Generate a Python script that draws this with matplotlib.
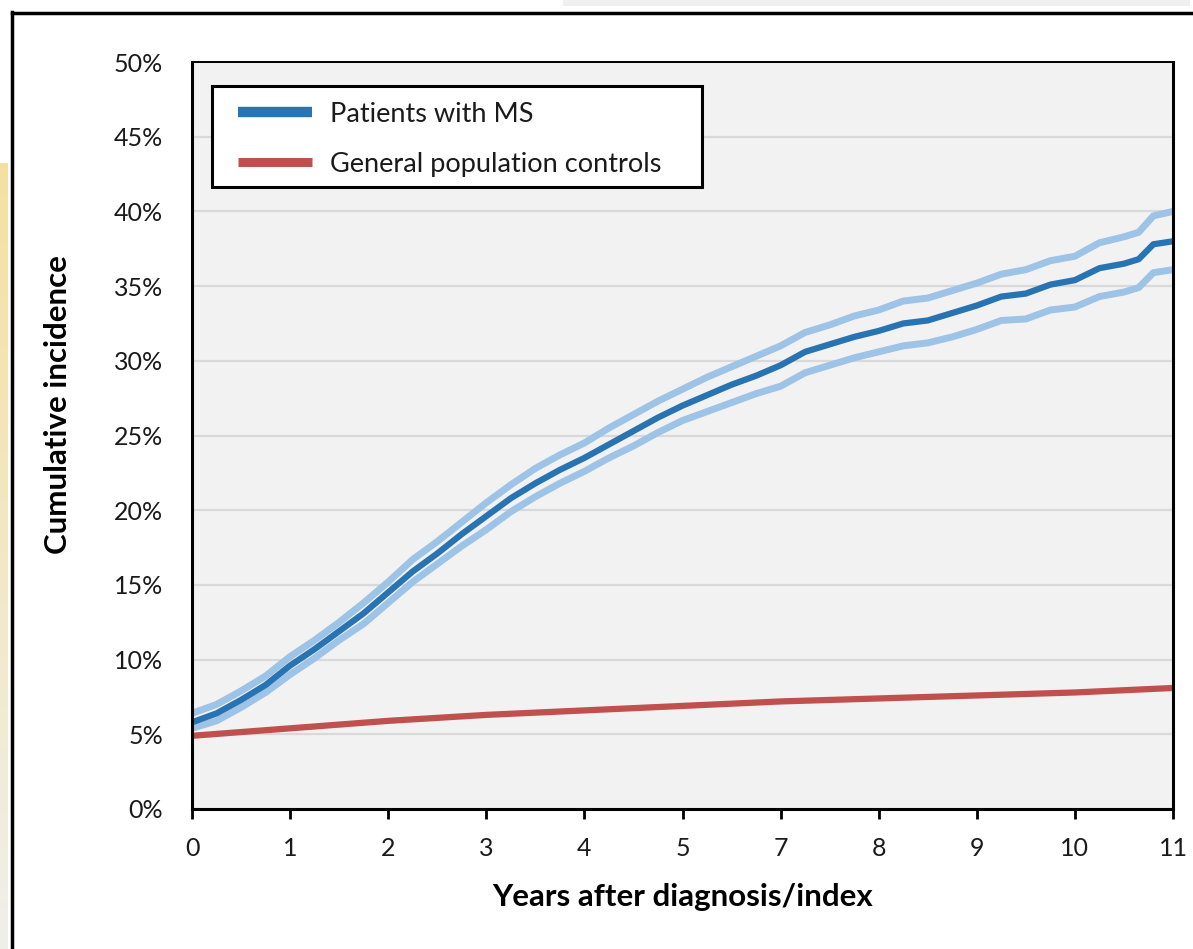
import numpy as np
import matplotlib
matplotlib.use("Agg")
import matplotlib.pyplot as plt
from matplotlib.lines import Line2D

plt.rcParams['font.family'] = ['Lato', 'DejaVu Sans']

# axis positions (the original axis skips the "6" label)
tick_pos = list(range(11))
tick_labels = ["0", "1", "2", "3", "4", "5", "7", "8", "9", "10", "11"]

# MS patients: cumulative incidence (%) with confidence band
ms_x = [0, 0.25, 0.5, 0.75, 1.0, 1.25, 1.5, 1.75, 2.0, 2.25, 2.5, 2.75, 3.0,
        3.25, 3.5, 3.75, 4.0, 4.25, 4.5, 4.75, 5.0, 5.25, 5.5, 5.75, 6.0,
        6.25, 6.5, 6.75, 7.0, 7.25, 7.5, 7.75, 8.0, 8.25, 8.5, 8.75, 9.0,
        9.25, 9.5, 9.65, 9.8, 10.0]
ms_mid = [5.8, 6.4, 7.3, 8.3, 9.6, 10.7, 11.9, 13.1, 14.5, 15.9, 17.1, 18.4,
          19.6, 20.8, 21.8, 22.7, 23.5, 24.4, 25.3, 26.2, 27.0, 27.7, 28.4,
          29.0, 29.7, 30.6, 31.1, 31.6, 32.0, 32.5, 32.7, 33.2, 33.7, 34.3,
          34.5, 35.1, 35.4, 36.2, 36.5, 36.8, 37.8, 38.0]
ms_upper = [6.4, 7.0, 7.9, 8.9, 10.2, 11.3, 12.5, 13.8, 15.2, 16.7, 17.9, 19.2,
            20.5, 21.7, 22.8, 23.7, 24.5, 25.5, 26.4, 27.3, 28.1, 28.9, 29.6,
            30.3, 31.0, 31.9, 32.4, 33.0, 33.4, 34.0, 34.2, 34.7, 35.2, 35.8,
            36.1, 36.7, 37.0, 37.9, 38.3, 38.6, 39.7, 40.0]
ms_lower = [5.4, 5.9, 6.8, 7.8, 9.0, 10.1, 11.3, 12.4, 13.8, 15.2, 16.4, 17.6,
            18.7, 19.9, 20.9, 21.8, 22.6, 23.5, 24.3, 25.2, 26.0, 26.6, 27.2,
            27.8, 28.3, 29.2, 29.7, 30.2, 30.6, 31.0, 31.2, 31.6, 32.1, 32.7,
            32.8, 33.4, 33.6, 34.3, 34.6, 34.9, 35.9, 36.1]

# general population controls
ctl_x = [0, 1, 2, 3, 4, 5, 6, 7, 8, 9, 10]
ctl_y = [4.9, 5.4, 5.9, 6.3, 6.6, 6.9, 7.2, 7.4, 7.6, 7.8, 8.1]

y_ticks = [0, 5, 10, 15, 20, 25, 30, 35, 40, 45, 50]
legend_labels = ["Patients with MS", "General population controls"]

blue = '#2874b2'
light_blue = '#9dc3e6'
red = '#c0504d'

W, H = 1193, 949
fig = plt.figure(figsize=(W / 100, H / 100), dpi=100)
fig.patch.set_facecolor('white')

# screenshot decorations around the chart
fig.add_artist(plt.Rectangle((563 / W, 1 - 6 / H), 627 / W, 6 / H,
                             transform=fig.transFigure, color='#efefef', lw=0))
strip = np.zeros((786, 8, 3))
top_c = np.array([0.94, 0.94, 0.92])
bot_c = np.array([0.96, 0.88, 0.63])
for i, t in enumerate(np.linspace(0, 1, 786)):
    strip[785 - i, :, :] = top_c * (1 - t) + bot_c * t
fig.figimage(strip, xo=0, yo=0, origin='upper')
fig.add_artist(Line2D([12 / W, 12 / W], [0, 1 - 12 / H], color='black', lw=2.5,
                      transform=fig.transFigure))
fig.add_artist(Line2D([12 / W, 1], [1 - 13 / H, 1 - 13 / H], color='black', lw=2.5,
                      transform=fig.transFigure))

ax = fig.add_axes([192 / W, 1 - 809 / H, 981 / W, 747 / H])
ax.set_facecolor('#f2f2f2')

ax.plot(ms_x, ms_upper, color=light_blue, lw=5, solid_capstyle='butt')
ax.plot(ms_x, ms_lower, color=light_blue, lw=5, solid_capstyle='butt')
ax.plot(ms_x, ms_mid, color=blue, lw=4.5, solid_capstyle='butt')
ax.plot(ctl_x, ctl_y, color=red, lw=4.5, solid_capstyle='butt')

ax.set_xlim(0, 10)
ax.set_ylim(0, 50)
ax.set_xticks(tick_pos)
ax.set_xticklabels(tick_labels)
ax.set_yticks(y_ticks)
ax.set_yticklabels([f"{v}%" for v in y_ticks])
ax.yaxis.grid(True, color='#d9d9d9', lw=1.6)
ax.set_axisbelow(True)

ax.tick_params(axis='x', length=7, width=2, direction='out', pad=13,
               labelsize=18, labelcolor='#1a1a1a')
ax.tick_params(axis='y', length=0, pad=21, labelsize=18, labelcolor='#1a1a1a')

for side in ['left', 'bottom', 'right']:
    ax.spines[side].set_linewidth(2.2)
ax.spines['top'].set_linewidth(1.4)

ax.set_xlabel("Years after diagnosis/index", fontsize=22.5, fontweight='bold')
ax.set_ylabel("Cumulative incidence", fontsize=22.5, fontweight='bold')
ax.xaxis.label.set_va('center')
ax.xaxis.set_label_coords(0.5, -0.118)
ax.yaxis.label.set_va('center')
ax.yaxis.set_label_coords(-0.137, 0.541)

# legend box drawn by hand to match its proportions
ax.add_patch(plt.Rectangle((0.0204, 0.8327), 0.4995, 0.1352,
                           transform=ax.transAxes, facecolor='white',
                           edgecolor='black', lw=2.2, zorder=5))
for (lab, col, lw, yy) in zip(legend_labels, [blue, red], [7.5, 6.5],
                              [0.9331, 0.8661]):
    ax.add_line(Line2D([0.0469, 0.1223], [yy, yy], color=col, lw=lw,
                       solid_capstyle='butt', transform=ax.transAxes, zorder=6))
    ax.text(0.1407, yy - 0.003, lab, transform=ax.transAxes, fontsize=19.5,
            va='center', ha='left', color='#1a1a1a', zorder=6)

fig.savefig('out.png', dpi=100)
